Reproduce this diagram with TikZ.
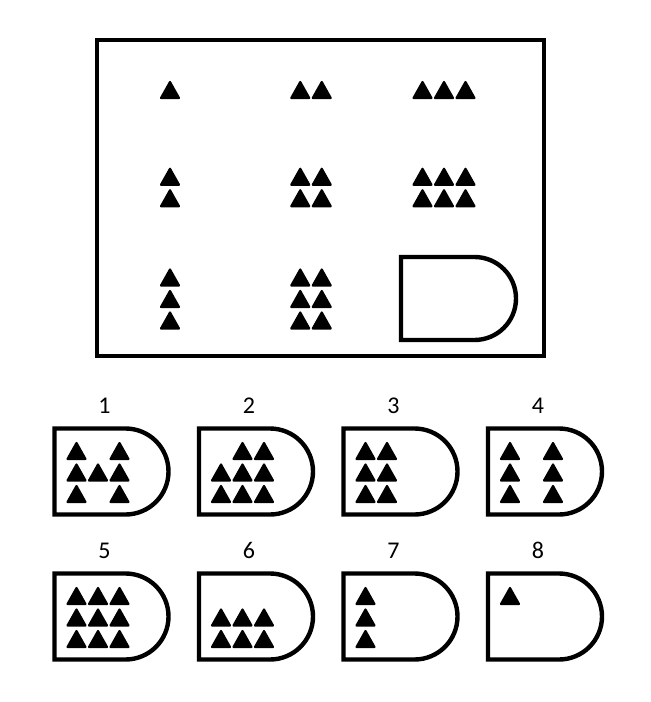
\documentclass[tikz,border=0pt]{standalone}
\usepackage{fontspec}
\setmainfont{Carlito}
\tikzstyle{frame}=[line width=3.3pt]
\tikzstyle{token}=[fill, line width=1.6pt, line join=round]
\tikzstyle{number}=[font=\fontsize{18}{21}\selectfont, inner sep=0]
% one filled triangle, centred on (#1,#2)
\newcommand{\drawtoken}[2]{\filldraw[token] (#1,#2) ++(0,-8) -- ++(9,16) -- ++(-18,0) -- cycle;}
% answer slot: name, left, top, width, height
\newcommand{\drawslot}[5]{%
  \coordinate (#1) at (#2,#3);
  \draw[frame] (#1) -- ++({#4-#5/2},0) arc[start angle=-90, end angle=90, radius={#5/2}]
    -- (#2,{#3+#5}) -- cycle;}

\begin{document}
\begin{tikzpicture}[x=0.75pt, y=-0.75pt]
      \useasboundingbox (0,0) rectangle (650,702);

      \draw[frame] (97,40) rectangle (544,356);
      \foreach \r/\y in {1/90, 2/187.5, 3/299} {
        \foreach \c/\x in {1/170, 2/311, 3/444} {
          \ifnum\r\c<33
            \foreach \i in {1,...,\c} {
              \foreach \j in {1,...,\r} {
                \drawtoken{{\x+21.5*(\i-(\c+1)/2)}}{{\y+21.5*(\j-(\r+1)/2)}}
              }
            }
          \fi
        }
      }
      \drawslot{gap}{401}{257}{115}{83}

      \foreach \k/\x/\y/\cells in {
          1/54.5/428.5/{0/0,2/0,0/1,1/1,2/1,0/2,2/2},
          2/199/428.5/{1/0,2/0,0/1,1/1,2/1,0/2,1/2,2/2},
          3/343.5/428.5/{0/0,1/0,0/1,1/1,0/2,1/2},
          4/488/428.5/{0/0,2/0,0/1,2/1,0/2,2/2},
          5/54.5/573.5/{0/0,1/0,2/0,0/1,1/1,2/1,0/2,1/2,2/2},
          6/199/573.5/{0/1,1/1,2/1,0/2,1/2,2/2},
          7/343.5/573.5/{0/0,0/1,0/2},
          8/488/573.5/{0/0}} {
        \node[number] (label\k) at (\x+50,\y-23) {\k};
        \drawslot{slot\k}{\x}{\y}{114}{86}
        \foreach \c/\r in \cells {
          \drawtoken{{\x+22+21.5*\c}}{{\y+22.5+21.5*\r}}
        }
      }
    \end{tikzpicture}
\end{document}
